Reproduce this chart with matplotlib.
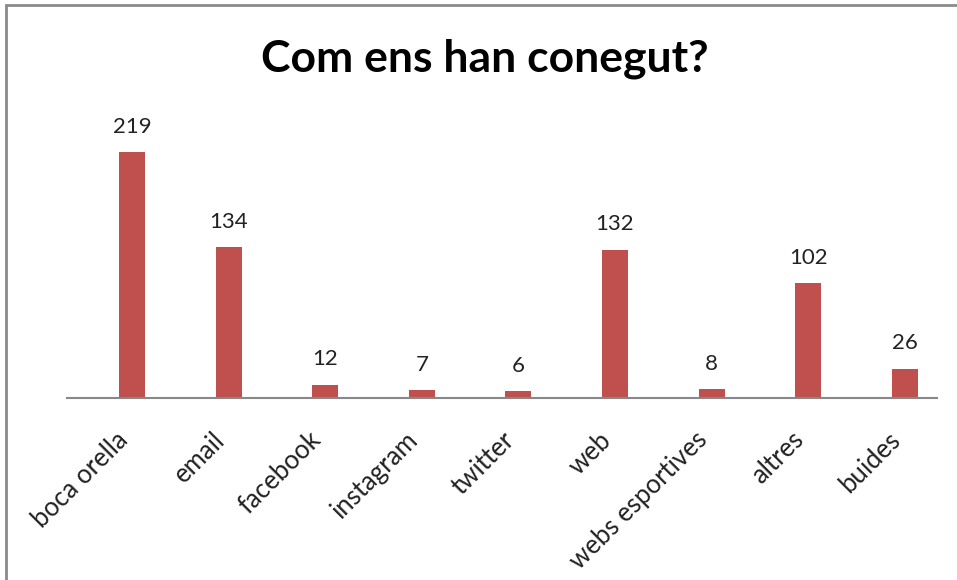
import matplotlib

matplotlib.use("Agg")
import matplotlib.pyplot as plt
from matplotlib.patches import Rectangle

categories = [
    "boca orella",
    "email",
    "facebook",
    "instagram",
    "twitter",
    "web",
    "webs esportives",
    "altres",
    "buides",
]
counts = [219, 134, 12, 7, 6, 132, 8, 102, 26]

TITLE = "Com ens han conegut?"
BAR_COLOR = "#C0504D"
TEXT_COLOR = "#222222"
FONT = ["Lato", "DejaVu Sans"]

fig = plt.figure(figsize=(9.57, 5.8), dpi=100)
# axis line runs from x=67 to x=937 px, baseline at y=398 px
ax = fig.add_axes([67 / 957, 182 / 580, 870 / 957, 281 / 580])

x = list(range(len(categories)))
bars = ax.bar(x, counts, width=0.27, color=BAR_COLOR, zorder=2)
for bar, value in zip(bars, counts):
    ax.annotate(
        f"{value}",
        (bar.get_x() + bar.get_width() / 2, bar.get_height()),
        xytext=(0, 11),
        textcoords="offset points",
        ha="center",
        va="bottom",
        fontsize=16,
        family=FONT,
        color=TEXT_COLOR,
    )

# category labels, ending a little left of each bar, like Excel does it
for pos, name in zip(x, categories):
    ax.annotate(
        name,
        (pos, 0),
        xytext=(-12, -21),
        textcoords="offset points",
        rotation=45,
        rotation_mode="anchor",
        ha="right",
        va="top",
        fontsize=18.5,
        family=FONT,
        color=TEXT_COLOR,
        annotation_clip=False,
    )

# bars sit slightly right of the category slots, as in the original
ax.set_xlim(-0.673, len(categories) - 1 + 0.334)
ax.set_ylim(0, 250)
ax.set_xticks([])
ax.set_yticks([])
for side in ("top", "right", "left"):
    ax.spines[side].set_visible(False)
ax.spines["bottom"].set_color("#888888")
ax.spines["bottom"].set_linewidth(1.5)

fig.text(0.507, 0.899, TITLE, ha="center", va="center", fontsize=32,
         fontweight="bold", family=FONT, color="black")

# chart frame (only top and left edges fall inside the picture)
fig.add_artist(Rectangle((5.5 / 957, -0.05), 1.2, 575 / 580 + 0.05,
                         transform=fig.transFigure, fill=False,
                         edgecolor="#8a8a8a", linewidth=2))

fig.savefig("out.png", dpi=100)
